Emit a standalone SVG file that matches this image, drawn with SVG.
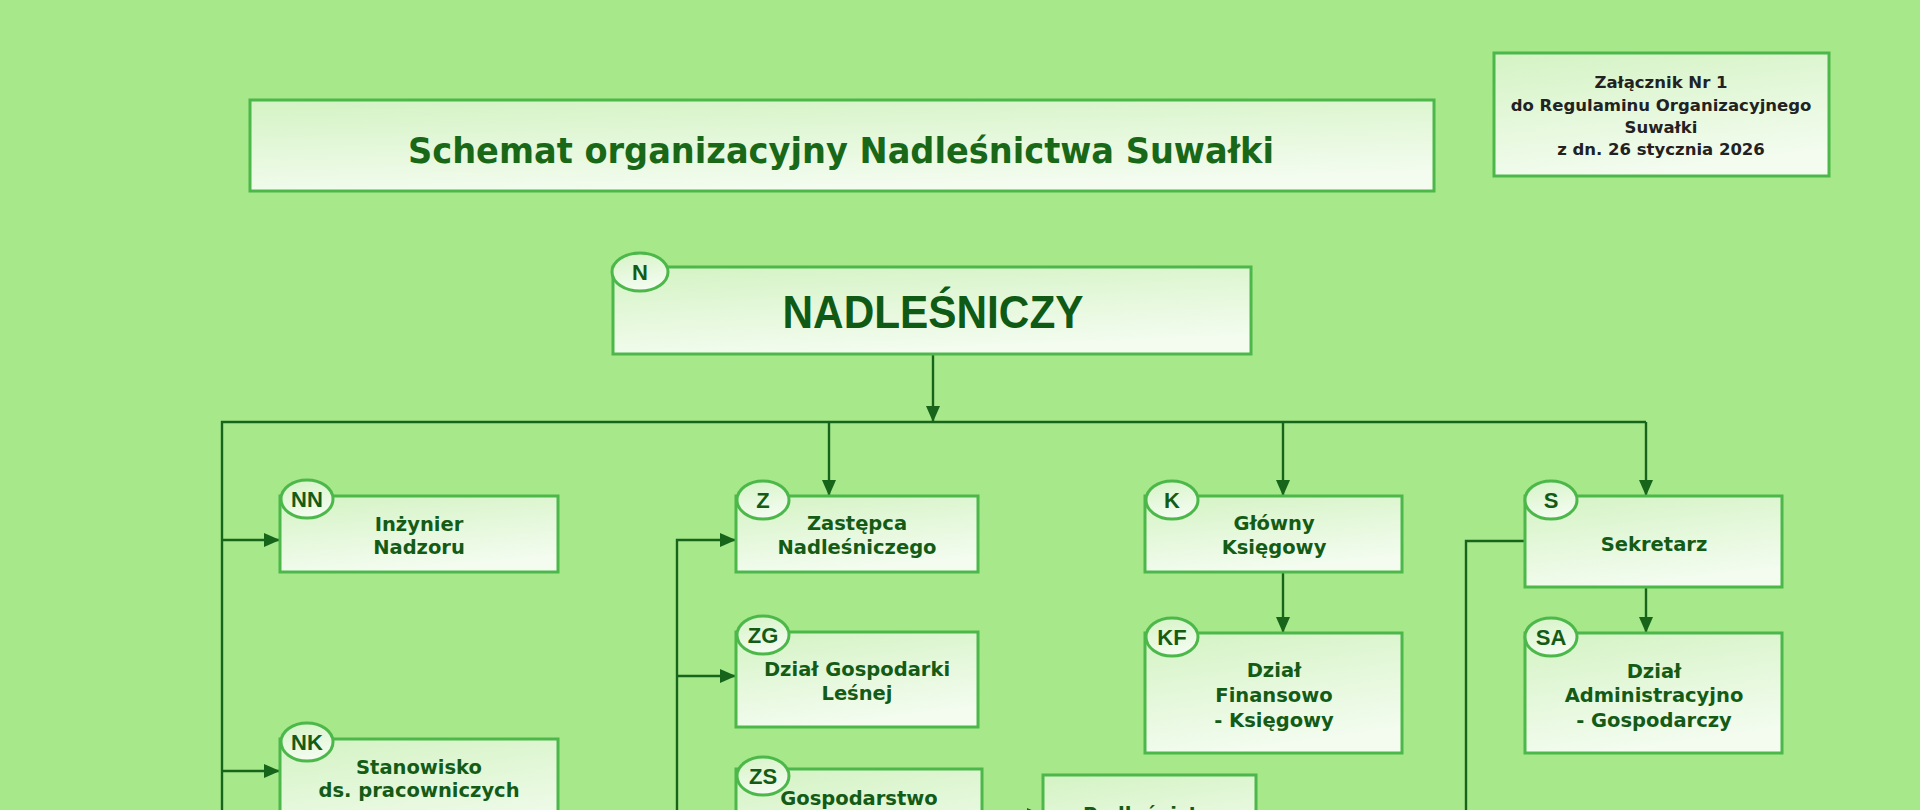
<svg xmlns="http://www.w3.org/2000/svg" width="1920" height="810" viewBox="0 0 1920 810">
<defs>
<linearGradient id="fill" x1="0" y1="0" x2="0.3" y2="1">
<stop offset="0" stop-color="#d4f3c4"/>
<stop offset="1" stop-color="#f3fcef"/>
</linearGradient>
<marker id="arr" markerUnits="userSpaceOnUse" markerWidth="17" markerHeight="15" refX="16" refY="7" orient="auto">
<path d="M0,0 L16,7 L0,14 z" fill="#17651a"/>
</marker>
<style>
.box{fill:url(#fill);stroke:#4cb84a;stroke-width:3}
.tag{fill:url(#fill);stroke:#4cb84a;stroke-width:3}
.lbl{font-family:"DejaVu Sans",Verdana,sans-serif;font-weight:bold;font-size:19.5px;fill:#145c16;text-anchor:middle}
.tg{font-family:"Liberation Sans",Arial,sans-serif;font-weight:bold;font-size:22px;fill:#145c16;text-anchor:middle}
.ann{font-family:"DejaVu Sans",Verdana,sans-serif;font-weight:bold;font-size:16.5px;fill:#222;text-anchor:middle}
.con{fill:none;stroke:#17651a;stroke-width:2.4}
.ar{marker-end:url(#arr)}
</style>
</defs>
<rect x="0" y="0" width="1920" height="810" fill="#a7e88b"/>

<g id="title">
<rect class="box" x="250" y="100" width="1184" height="91"/>
<text x="841" y="163" font-family="DejaVu Sans,Verdana,sans-serif" font-weight="bold" font-size="36" fill="#186818" text-anchor="middle" textLength="866" lengthAdjust="spacingAndGlyphs">Schemat organizacyjny Nadleśnictwa Suwałki</text>
</g>

<g id="annex">
<rect class="box" x="1494" y="53" width="335" height="123"/>
<text class="ann" x="1661" y="88">Załącznik Nr 1</text>
<text class="ann" x="1661" y="111">do Regulaminu Organizacyjnego</text>
<text class="ann" x="1661" y="133">Suwałki</text>
<text class="ann" x="1661" y="155">z dn. 26 stycznia 2026</text>
</g>

<g id="connectors">
<path class="con ar" d="M933,354 V422"/>
<path class="con" d="M222,812 V422 H1646"/>
<path class="con ar" d="M222,540 H280"/>
<path class="con ar" d="M222,771 H280"/>
<path class="con ar" d="M829,422 V496"/>
<path class="con ar" d="M1283,422 V496"/>
<path class="con ar" d="M1646,422 V496"/>
<path class="con ar" d="M1283,572 V633"/>
<path class="con ar" d="M1646,587 V633"/>
<path class="con ar" d="M677,812 V540 H736"/>
<path class="con ar" d="M677,676 H736"/>
<path class="con" d="M1525,541 H1466 V812"/>
<path class="con ar" d="M982,815 H1043"/>
</g>

<g id="N">
<rect class="box" x="613" y="267" width="638" height="87"/>
<ellipse class="tag" cx="640" cy="272" rx="28" ry="19"/>
<text class="tg" x="640" y="280" font-size="20">N</text>
<text x="933" y="328" font-family="Liberation Sans,Arial,sans-serif" font-weight="bold" font-size="46" fill="#0f5a14" text-anchor="middle" textLength="301" lengthAdjust="spacingAndGlyphs">NADLEŚNICZY</text>
</g>

<g id="NN">
<rect class="box" x="280" y="496" width="278" height="76"/>
<ellipse class="tag" cx="307" cy="499" rx="26" ry="19"/>
<text class="tg" x="307" y="507">NN</text>
<text class="lbl" x="419" y="531">Inżynier</text>
<text class="lbl" x="419" y="554">Nadzoru</text>
</g>

<g id="NK">
<rect class="box" x="280" y="739" width="278" height="120"/>
<ellipse class="tag" cx="307" cy="742" rx="26" ry="19"/>
<text class="tg" x="307" y="750">NK</text>
<text class="lbl" x="419" y="774">Stanowisko</text>
<text class="lbl" x="419" y="797">ds. pracowniczych</text>
</g>

<g id="Z">
<rect class="box" x="736" y="496" width="242" height="76"/>
<ellipse class="tag" cx="763" cy="500" rx="26" ry="19"/>
<text class="tg" x="763" y="508">Z</text>
<text class="lbl" x="857" y="530">Zastępca</text>
<text class="lbl" x="857" y="554">Nadleśniczego</text>
</g>

<g id="ZG">
<rect class="box" x="736" y="632" width="242" height="95"/>
<ellipse class="tag" cx="763" cy="635" rx="26" ry="19"/>
<text class="tg" x="763" y="643">ZG</text>
<text class="lbl" x="857" y="676">Dział Gospodarki</text>
<text class="lbl" x="857" y="700">Leśnej</text>
</g>

<g id="ZS">
<rect class="box" x="736" y="769" width="246" height="120"/>
<ellipse class="tag" cx="763" cy="776" rx="26" ry="19"/>
<text class="tg" x="763" y="784">ZS</text>
<text class="lbl" x="859" y="805">Gospodarstwo</text>
</g>

<g id="P">
<rect class="box" x="1043" y="775" width="213" height="100"/>
<text class="lbl" x="1156" y="821">Podleśnictwa</text>
</g>

<g id="K">
<rect class="box" x="1145" y="496" width="257" height="76"/>
<ellipse class="tag" cx="1172" cy="500" rx="26" ry="19"/>
<text class="tg" x="1172" y="508">K</text>
<text class="lbl" x="1274" y="530">Główny</text>
<text class="lbl" x="1274" y="554">Księgowy</text>
</g>

<g id="KF">
<rect class="box" x="1145" y="633" width="257" height="120"/>
<ellipse class="tag" cx="1172" cy="637" rx="26" ry="19"/>
<text class="tg" x="1172" y="645">KF</text>
<text class="lbl" x="1274" y="677">Dział</text>
<text class="lbl" x="1274" y="702">Finansowo</text>
<text class="lbl" x="1274" y="727">- Księgowy</text>
</g>

<g id="S">
<rect class="box" x="1525" y="496" width="257" height="91"/>
<ellipse class="tag" cx="1551" cy="500" rx="26" ry="19"/>
<text class="tg" x="1551" y="508">S</text>
<text class="lbl" x="1654" y="551">Sekretarz</text>
</g>

<g id="SA">
<rect class="box" x="1525" y="633" width="257" height="120"/>
<ellipse class="tag" cx="1551" cy="637" rx="26" ry="19"/>
<text class="tg" x="1551" y="645">SA</text>
<text class="lbl" x="1654" y="678">Dział</text>
<text class="lbl" x="1654" y="702">Administracyjno</text>
<text class="lbl" x="1654" y="727">- Gospodarczy</text>
</g>
</svg>
